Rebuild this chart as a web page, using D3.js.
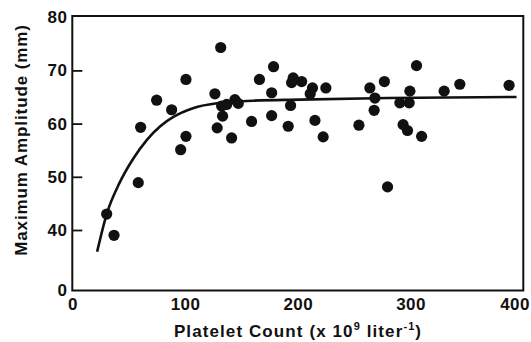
<!DOCTYPE html>
<html>
<head>
<meta charset="utf-8">
<script src="https://cdn.jsdelivr.net/npm/d3@7"></script>
<style>
  html, body { margin: 0; padding: 0; background: #fff; }
  svg { display: block; }
  text { font-family: "Liberation Sans", Arial, Helvetica, sans-serif; font-weight: bold; fill: #111; }
</style>
</head>
<body>
<svg id="chart" width="531" height="342"></svg>
<script>
// Platelet count (x 10^9 / liter) of each measured point
const plateletCount = [30.5, 37.0, 58.5, 60.6, 74.8, 88.1, 96.1, 100.8, 100.8, 126.5,
  128.5, 131.6, 132.4, 133.3, 136.9, 141.3, 144.2, 147.2, 159.0, 166.0,
  176.8, 176.8, 178.5, 191.5, 193.6, 194.5, 195.9, 203.4, 213.0, 211.0,
  215.2, 222.5, 224.9, 254.2, 263.9, 267.7, 268.4, 276.8, 279.6, 290.5,
  293.4, 297.3, 298.8, 299.4, 305.3, 309.8, 329.8, 343.7, 387.4];
// Maximum amplitude (mm) of each measured point
const maxAmplitude = [43.0, 39.0, 48.9, 59.3, 64.4, 62.6, 55.1, 57.6, 68.3, 65.6,
  59.2, 74.3, 63.3, 61.4, 63.6, 57.3, 64.5, 63.8, 60.4, 68.3,
  65.8, 61.5, 70.7, 59.5, 63.4, 67.7, 68.6, 67.9, 66.7, 65.6,
  60.6, 57.5, 66.7, 59.7, 66.7, 62.5, 64.8, 67.9, 48.1, 63.9,
  59.8, 58.7, 63.9, 66.1, 70.9, 57.6, 66.1, 67.4, 67.2];
// Fitted curve
const curveX = [22, 30.5, 42, 54, 66, 78, 90, 107, 131, 160, 202, 280, 394];
const curveY = [35.9, 43.0, 48.9, 53.4, 56.9, 59.5, 61.3, 62.9, 63.9, 64.3, 64.5, 64.8, 65.0];
// Tick labels
const xTicks = [0, 100, 200, 300, 400];
const yTicks = [0, 40, 50, 60, 70, 80];

(function () {
const svg = d3.select("#chart");
const mLeft = 72.3, mRight = 523.3, mTop = 16, mBottom = 290.5;

const x = d3.scaleLinear().domain([0, 400]).range([mLeft, mRight]);
// broken axis: 0 sits just below the 30-80 region
const y = d3.scaleLinear().domain([0, 30, 80]).range([mBottom, 283.2, 17.2]);

// frame
svg.append("rect")
  .attr("x", mLeft).attr("y", mTop)
  .attr("width", mRight - mLeft).attr("height", mBottom - mTop)
  .attr("fill", "none").attr("stroke", "#111").attr("stroke-width", 2);

// y axis
const yAxis = d3.axisLeft(y).tickValues(yTicks).tickSizeInner(-10).tickSizeOuter(0).tickPadding(6)
  .tickFormat(d3.format("d"));
const gy = svg.append("g").attr("transform", `translate(${mLeft},0)`).call(yAxis);
gy.select(".domain").remove();
gy.selectAll(".tick line").attr("stroke", "#111").attr("stroke-width", 1.8)
  .attr("display", d => (d === 0 || d === 80) ? "none" : null);
gy.selectAll(".tick text").attr("font-size", 17).attr("font-family", null).attr("fill", null)
  .attr("letter-spacing", 0.4).attr("x", -5);

// x axis
const xAxis = d3.axisBottom(x).tickValues(xTicks).tickSize(0).tickPadding(7).tickFormat(d3.format("d"));
const gx = svg.append("g").attr("transform", `translate(0,${mBottom})`).call(xAxis);
gx.select(".domain").remove();
gx.selectAll(".tick text").attr("font-size", 17).attr("font-family", null).attr("fill", null)
  .attr("letter-spacing", 0.4)
  .attr("text-anchor", d => d === 400 ? "end" : "middle")
  .attr("dx", d => d === 400 ? 6 : 0);

// curve
const line = d3.line().x(d => x(d[0])).y(d => y(d[1])).curve(d3.curveMonotoneX);
svg.append("path")
  .datum(curveX.map((v, i) => [v, curveY[i]]))
  .attr("d", line)
  .attr("fill", "none").attr("stroke", "#111").attr("stroke-width", 2.6);

// points
svg.append("g").selectAll("circle")
  .data(plateletCount.map((v, i) => [v, maxAmplitude[i]]))
  .join("circle")
  .attr("cx", d => x(d[0])).attr("cy", d => y(d[1]))
  .attr("r", 5.6).attr("fill", "#111");

// axis titles
const xt = svg.append("text").attr("x", 298).attr("y", 337).attr("text-anchor", "middle")
  .attr("font-size", 17).attr("letter-spacing", 1.1);
xt.append("tspan").text("Platelet Count (x 10");
xt.append("tspan").attr("font-size", 11).attr("dy", -7).text("9");
xt.append("tspan").attr("dy", 7).text(" liter");
xt.append("tspan").attr("font-size", 11).attr("dy", -7).text("-1");
xt.append("tspan").attr("dy", 7).text(")");

svg.append("text")
  .attr("transform", "translate(27,140) rotate(-90)")
  .attr("text-anchor", "middle").attr("font-size", 17).attr("letter-spacing", 0.9)
  .text("Maximum Amplitude (mm)");
})();
</script>
</body>
</html>
